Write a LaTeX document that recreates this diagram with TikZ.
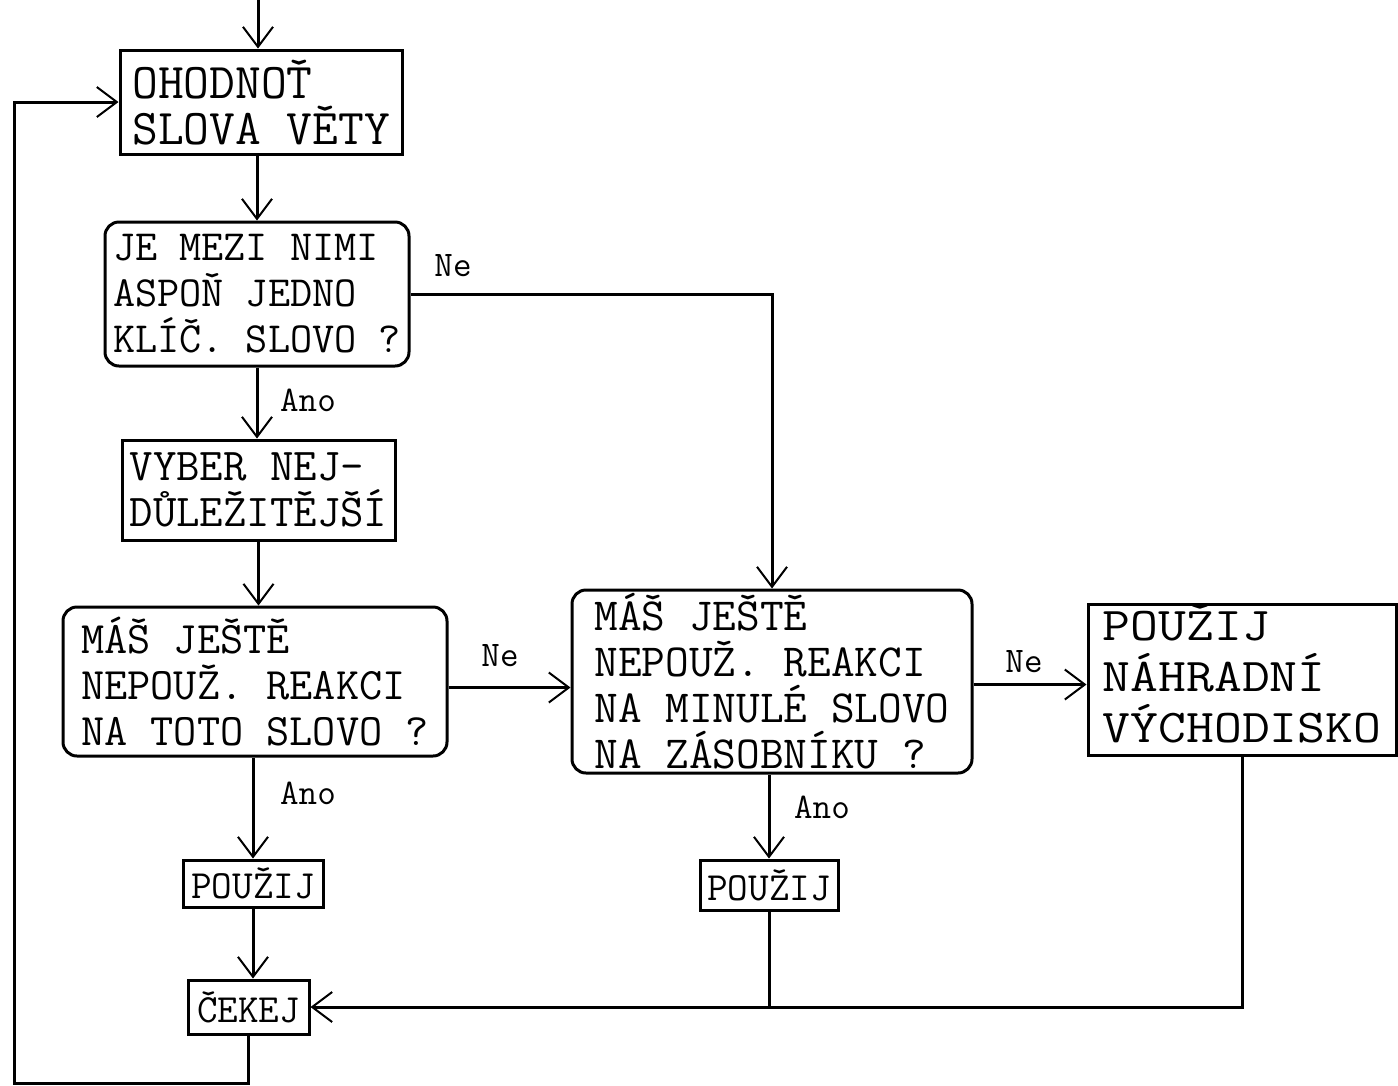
\documentclass[tikz,border=0pt]{standalone}
\usepackage{fontspec}
\usetikzlibrary{arrows.meta}
\newcommand{\fs}[1]{\fontsize{#1}{46}\selectfont\ttfamily}
\begin{document}
\begin{tikzpicture}[x=1pt,y=-1pt,line width=3pt,
  box/.style={draw,line width=3pt,inner sep=0pt,align=left},
  rbox/.style={box,rounded corners=14pt},
  arr/.style={-{Straight Barb[length=20pt,width=30pt,line width=2pt]}},
  lbl/.style={font=\fontsize{36}{36}\selectfont\ttfamily}]
\useasboundingbox (0,0) rectangle (1398,1085);
\node[box,minimum width=282pt,minimum height=104pt,font=\fs{50}] (b1) at (261,102) {OHODNOŤ\\SLOVA VĚTY};
\node[rbox,minimum width=304pt,minimum height=144pt,font=\fs{43}] (d1) at (257,294) {JE MEZI NIMI\\ASPOŇ JEDNO\\KLÍČ. SLOVO ?};
\node[box,minimum width=273pt,minimum height=100pt,font=\fs{45.5}] (b2) at (258.5,490) {VYBER NEJ-\\DŮLEŽITĚJŠÍ};
\node[rbox,minimum width=384pt,minimum height=149pt,font=\fs{45}] (d2) at (255,681.5) {MÁŠ JEŠTĚ\\NEPOUŽ. REAKCI\\NA TOTO SLOVO ?};
\node[rbox,minimum width=400pt,minimum height=183pt,font=\fs{46}] (d3) at (772,681.5) {MÁŠ JEŠTĚ\\NEPOUŽ. REAKCI\\NA MINULÉ SLOVO\\NA ZÁSOBNÍKU ?};
\node[box,minimum width=308pt,minimum height=146pt,font=\fs{47}] (b5) at (1242,680) {\renewcommand{\arraystretch}{0.93}\scalebox{1.15}[1]{\begin{tabular}{@{}l@{}}POUŽIJ\\NÁHRADNÍ\\VÝCHODISKO\end{tabular}}};
\node[box,minimum width=140pt,minimum height=47pt,font=\fs{40}] (p1) at (253,883.5) {POUŽIJ};
\node[box,minimum width=138pt,minimum height=50pt,font=\fs{40}] (p2) at (769,885) {POUŽIJ};
\node[box,minimum width=121pt,minimum height=54pt,font=\fs{40}] (c) at (248.5,1007) {ČEKEJ};
\node[lbl] (ne1) at (453,266) {Ne};
\node[lbl] (ano1) at (308,400) {Ano};
\node[lbl] (ne2) at (500,656) {Ne};
\node[lbl] (ne3) at (1024,662) {Ne};
\node[lbl] (ano2) at (308,793) {Ano};
\node[lbl] (ano3) at (822,807) {Ano};
\coordinate (top) at (258,0);
\coordinate (ll) at (14,1083);
\coordinate (j) at (p2.south |- c.east);
\coordinate (e2) at ([yshift=-6pt]d2.east);
\coordinate (e3) at ([yshift=-3pt]d3.east);
\draw[arr] (top) -- (top |- b1.north);
\draw[arr] (d1.north |- b1.south) -- (d1.north);
\draw[arr] (d1.south) -- (d1.south |- b2.north);
\draw[arr] (b2.south) -- (b2.south |- d2.north);
\draw[arr] (d1.east) -| (d3.north);
\draw[arr] (e2) -- (e2 -| d3.west);
\draw[arr] (e3) -- (e3 -| b5.west);
\draw[arr] (d2.south -| p1.north) -- (p1.north);
\draw[arr] (p1.south) -- (p1.south |- c.north);
\draw[arr] (d3.south -| p2.north) -- (p2.north);
\draw[arr] (p2.south) -- (j) -- (c.east);
\draw (b5.south) |- (j);
\draw[arr] (c.south) |- (ll) |- (b1.west);
\end{tikzpicture}
\end{document}
